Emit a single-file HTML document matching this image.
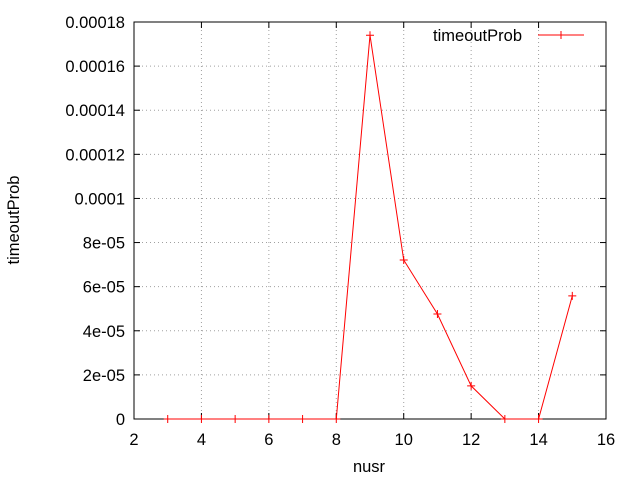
<!DOCTYPE html>
<html><head><meta charset="utf-8"><style>
body{margin:0;background:#fff;}
svg{display:block;font-family:"Liberation Sans",sans-serif;font-size:16.5px;}
</style></head><body>
<svg id="chart" width="640" height="480"></svg>
<script>
const xValues=[3,4,5,6,7,8,9,10,11,12,13,14,15];
const yValues=[0,0,0,0,0,0,0.000174,0.0000721,0.0000476,0.000015,0,0,0.0000558];
const xTicks=[2,4,6,8,10,12,14,16];
const xTickLabels=["2","4","6","8","10","12","14","16"];
const yTicks=[0,0.00002,0.00004,0.00006,0.00008,0.0001,0.00012,0.00014,0.00016,0.00018];
const yTickLabels=["0","2e-05","4e-05","6e-05","8e-05","0.0001","0.00012","0.00014","0.00016","0.00018"];
const seriesName="timeoutProb";
const L=134,R=606,T=22,B=419;
const sx=v=>L+(v-2)/14*(R-L);
const sy=v=>B-v/0.00018*(B-T);
const svg=document.getElementById('chart');
const NS='http://www.w3.org/2000/svg';
function mk(tag,attrs,parent){const e=document.createElementNS(NS,tag);for(const k in attrs)e.setAttribute(k,attrs[k]);(parent||svg).appendChild(e);return e;}
const grid=mk('g',{});


xTicks.forEach((t,i)=>{
  const x=sx(t);
  if(i>0&&i<xTicks.length-1){mk('line',{x1:x,x2:x,y1:T,y2:B,stroke:'#a0a0a0','stroke-dasharray':'1,3','stroke-width':1},grid);}
  mk('line',{x1:x,x2:x,y1:B,y2:B-6,stroke:'#000'});
  mk('line',{x1:x,x2:x,y1:T,y2:T+6,stroke:'#000'});
  const tx=mk('text',{x:x,y:B+26,'text-anchor':'middle'});
  tx.textContent=xTickLabels[i];
  
  
});
yTicks.forEach((t,i)=>{
  const y=sy(t);
  if(i>0&&i<yTicks.length-1){mk('line',{x1:L,x2:R,y1:y,y2:y,stroke:'#a0a0a0','stroke-dasharray':'1,3','stroke-width':1},grid);}
  mk('line',{x1:L,x2:L+6,y1:y,y2:y,stroke:'#000'});
  mk('line',{x1:R,x2:R-6,y1:y,y2:y,stroke:'#000'});
  const tx=mk('text',{x:L-9,y:y+6,'text-anchor':'end'});
  tx.textContent=yTickLabels[i];
  
  
});
const frame=mk('rect',{x:L,y:T,width:R-L,height:B-T,fill:'none',stroke:'#000'});


const pts=xValues.map((x,i)=>sx(x)+','+sy(yValues[i])).join(' ');
const line=mk('polyline',{points:pts,fill:'none',stroke:'#ff0000','stroke-width':1});


xValues.forEach((x,i)=>{
  const cx=sx(x),cy=sy(yValues[i]);
  const p=mk('path',{d:`M${cx-4},${cy}H${cx+4}M${cx},${cy-4}V${cy+4}`,stroke:'#ff0000','stroke-width':1});
  
  
});
const lt=mk('text',{x:522,y:41,'text-anchor':'end'});
lt.textContent=seriesName;


const ll=mk('path',{d:'M538,35H584M561,31V39',stroke:'#ff0000','stroke-width':1});


const xt=mk('text',{x:369,y:472,'text-anchor':'middle'});
xt.textContent='nusr';


const yt=mk('text',{x:19,y:220,'text-anchor':'middle',transform:'rotate(-90 19 220)'});
yt.textContent='timeoutProb';


</script>
</body></html>
